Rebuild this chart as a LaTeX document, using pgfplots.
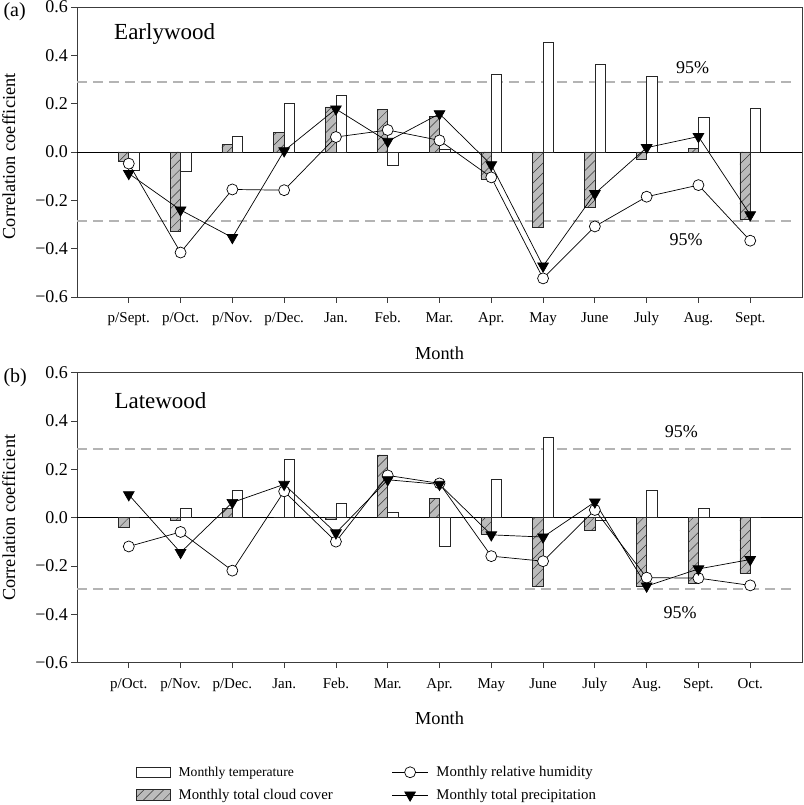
\documentclass[border=0pt]{standalone}
\usepackage{pgfplots}
\usepackage{pgfplotstable}
\pgfplotsset{compat=1.18}
\usepackage{fontspec}
\setmainfont{Liberation Serif}
\usetikzlibrary{patterns.meta}
\definecolor{cloudgray}{HTML}{BBBBBB}
\definecolor{dashgray}{HTML}{B4B4B4}
\definecolor{framegray}{HTML}{3C3C3C}

\pgfplotstableread{
x     cloud   temp    hum     prec
0    -0.040  -0.075  -0.048  -0.089
1    -0.330  -0.079  -0.416  -0.240
2     0.030   0.066  -0.155  -0.354
3     0.080   0.203  -0.158   0.005
4     0.187   0.235   0.062   0.178
5     0.176  -0.054   0.091   0.044
6     0.148   0.012   0.048   0.158
7    -0.112   0.321  -0.105  -0.053
8    -0.311   0.454  -0.523  -0.472
9    -0.228   0.362  -0.308  -0.172
10   -0.029   0.315  -0.185   0.018
11    0.015   0.142  -0.137   0.064
12   -0.278   0.181  -0.367  -0.260
}\earlywood

\pgfplotstableread{
x     cloud   temp    hum     prec
0    -0.040   0.000  -0.119   0.095
1    -0.010   0.040  -0.059  -0.144
2     0.040   0.112  -0.219   0.063
3     0.000   0.240   0.109   0.138
4    -0.008   0.059  -0.099  -0.063
5     0.260   0.021   0.175   0.157
6     0.080  -0.120   0.142   0.138
7    -0.069   0.160  -0.159  -0.071
8    -0.282   0.331  -0.180  -0.080
9    -0.051  -0.010   0.032   0.065
10   -0.283   0.112  -0.248  -0.283
11   -0.270   0.040  -0.250  -0.212
12   -0.229   0.000  -0.280  -0.173
}\latewood

\pgfplotsset{
  panel/.style={
    scale only axis, width=725pt, height=290pt,
    xmin=-1, xmax=13, ymin=-0.6, ymax=0.6,
    xtick={0,...,12},
    ytick={-0.6,-0.4,-0.2,0,0.2,0.4,0.6},
    yticklabels={−0.6,−0.4,−0.2,0.0,0.2,0.4,0.6},
    tick align=outside, xtick pos=bottom, ytick pos=left,
    major tick length=5.5pt,
    axis line style={framegray, line width=0.8pt},
    tick style={framegray, line width=0.8pt},
    yticklabel style={font=\fontsize{18}{20}\selectfont},
    xticklabel style={font=\fontsize{15}{17}\selectfont, text height=10.5pt, text depth=3.5pt, yshift=-6pt},
    label style={font=\fontsize{18.3}{21}\selectfont},
    xlabel={Month},
    ylabel={Correlation coefficient},
  },
  hatch/.style={postaction={pattern={Lines[angle=45,distance=7pt,line width=0.5pt]}, pattern color=black!80}},
  cloud/.style={ybar, bar width=10.4pt, bar shift=0pt, draw=black!85, line width=0.6pt,
    fill=cloudgray, hatch},
  temp/.style={ybar, bar width=10.4pt, bar shift=0pt, draw=black!85, line width=0.6pt, fill=white},
  hum/.style={black, line width=0.7pt, mark=*, mark size=5.5pt,
    mark options={fill=white, draw=black, line width=0.7pt}},
  prec/.style={black, line width=0.7pt, mark=triangle*, mark size=6.2pt,
    mark options={fill=black, draw=black, rotate=180}},
  dashline/.style={dashgray, line width=1.9pt, dash pattern=on 10pt off 6pt, forget plot},
  zeroline/.style={black, line width=0.6pt, forget plot},
  boxlegend/.style={legend image code/.code={\draw[##1] (0pt,-5.3pt) rectangle (34pt,5.3pt);}},
  linelegend/.style={legend image code/.code={\draw[mark repeat=2,mark phase=2,##1] plot coordinates {(0pt,0pt) (18pt,0pt) (36pt,0pt)};}},
}

\begin{document}
\begin{tikzpicture}
\useasboundingbox (0pt,0pt) rectangle (803pt,-805pt);

% ---------------- (a) Earlywood ----------------
\begin{axis}[panel,
  at={(77pt,-297pt)}, anchor=south west,
  xticklabels={p/Sept.,p/Oct.,p/Nov.,p/Dec.,Jan.,Feb.,Mar.,Apr.,May,June,July,Aug.,Sept.},
  xlabel style={at={(axis description cs:0.5,-0.193)}, anchor=center},
  ylabel style={at={(axis description cs:-0.094,0.485)}, anchor=center},
]
\addplot[dashline] coordinates {(-1,0.29) (12.83,0.29)};
\addplot[dashline] coordinates {(-1,-0.285) (12.83,-0.285)};
\addplot[zeroline] coordinates {(-1,0) (13,0)};
\addplot[cloud, forget plot] table[x expr=\thisrow{x}-0.1, y=cloud] {\earlywood};
\addplot[temp, forget plot] table[x expr=\thisrow{x}+0.1, y=temp] {\earlywood};
\addplot[hum, forget plot] table[x=x, y=hum] {\earlywood};
\addplot[prec, forget plot] table[x=x, y=prec] {\earlywood};
\end{axis}

% ---------------- (b) Latewood ----------------
\begin{axis}[panel,
  at={(77pt,-662.7pt)}, anchor=south west,
  xticklabels={p/Oct.,p/Nov.,p/Dec.,Jan.,Feb.,Mar.,Apr.,May,June,July,Aug.,Sept.,Oct.},
  xlabel style={at={(axis description cs:0.5,-0.19)}, anchor=center},
  ylabel style={at={(axis description cs:-0.094,0.5)}, anchor=center},
  legend columns=2,
  legend cell align=left,
  legend style={draw=none, fill=none, at={(axis description cs:0.077,-0.343)}, anchor=north west,
    font=\fontsize{14.8}{16}\selectfont, row sep=7pt,
    /tikz/every odd column/.append style={column sep=6pt},
    /tikz/every even column/.append style={column sep=57pt}},
]
\addlegendimage{draw=black!85, line width=0.6pt, fill=white, boxlegend}
\addlegendentry{\fontsize{13.6}{15}\selectfont Monthly temperature}
\addlegendimage{hum, linelegend}
\addlegendentry{Monthly relative humidity}
\addlegendimage{draw=black!85, line width=0.6pt, fill=cloudgray, hatch, boxlegend}
\addlegendentry{Monthly total cloud cover}
\addlegendimage{prec, linelegend}
\addlegendentry{Monthly total precipitation}

\addplot[dashline] coordinates {(-1,0.286) (12.83,0.286)};
\addplot[dashline] coordinates {(-1,-0.296) (12.83,-0.296)};
\addplot[zeroline] coordinates {(-1,0) (13,0)};
\addplot[cloud, forget plot] table[x expr=\thisrow{x}-0.1, y=cloud] {\latewood};
\addplot[temp, forget plot] table[x expr=\thisrow{x}+0.1, y=temp] {\latewood};
\addplot[hum, forget plot] table[x=x, y=hum] {\latewood};
\addplot[prec, forget plot] table[x=x, y=prec] {\latewood};
\end{axis}

% ---------------- texts ----------------
\node[anchor=base west, inner sep=0pt, font=\fontsize{20}{22}\selectfont] at (3.3pt,-16.5pt) {(a)};
\node[anchor=base west, inner sep=0pt, font=\fontsize{20}{22}\selectfont] at (3.3pt,-382pt) {(b)};
\node[anchor=base west, inner sep=0pt, font=\fontsize{23}{25}\selectfont] at (114pt,-39.3pt) {Earlywood};
\node[anchor=base west, inner sep=0pt, font=\fontsize{23}{25}\selectfont] at (114.3pt,-408pt) {Latewood};
\node[anchor=base, inner sep=0pt, font=\fontsize{18}{20}\selectfont] at (692.5pt,-74pt) {95\%};
\node[anchor=base, inner sep=0pt, font=\fontsize{18}{20}\selectfont] at (686pt,-245.7pt) {95\%};
\node[anchor=base, inner sep=0pt, font=\fontsize{18}{20}\selectfont] at (681.3pt,-437.3pt) {95\%};
\node[anchor=base, inner sep=0pt, font=\fontsize{18}{20}\selectfont] at (680pt,-618.3pt) {95\%};
\end{tikzpicture}
\end{document}
